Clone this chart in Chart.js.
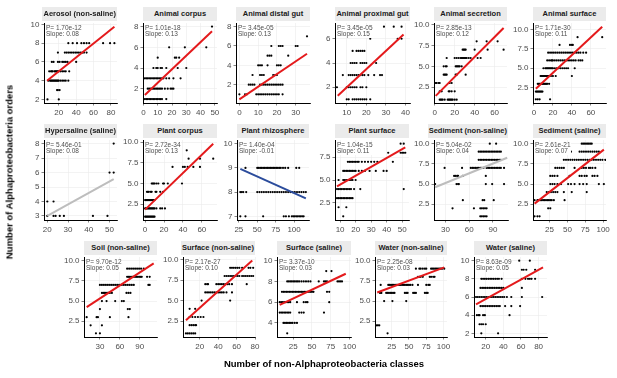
<!DOCTYPE html>
<html>
<head>
<meta charset="utf-8">
<script src="https://cdn.jsdelivr.net/npm/chart.js@4.4.1/dist/chart.umd.min.js"></script>
<style>
  body { margin: 0; background: #fff; }
  #fig { position: relative; width: 617px; height: 378px; overflow: hidden; background: #fff; font-family: "Liberation Sans", Arial, sans-serif; }
  #fig canvas { position: absolute; }
  .strip { position: absolute; height: 14px; line-height: 14px; background: #ebebeb; color: #1a1a1a; font-weight: bold; font-size: 7.5px; text-align: center; white-space: nowrap; padding: 0 1px; box-sizing: border-box; }
  .stats { position: absolute; font-size: 6.5px; line-height: 6.6px; color: #4d4d4d; background: #fff; white-space: nowrap; }
  .axtitle { position: absolute; font-weight: bold; font-size: 9.5px; color: #000; white-space: nowrap; }
</style>
</head>
<body>
<div id="fig"></div>
<script>
// facet titles and stats
const titles = ['Aerosol (non-saline)', 'Animal corpus', 'Animal distal gut', 'Animal proximal gut', 'Animal secretion', 'Animal surface',
  'Hypersaline (saline)', 'Plant corpus', 'Plant rhizosphere', 'Plant surface', 'Sediment (non-saline)', 'Sediment (saline)',
  'Soil (non-saline)', 'Surface (non-saline)', 'Surface (saline)', 'Water (non-saline)', 'Water (saline)'];
const pLabels = ['1.70e-12', '1.01e-18', '3.45e-05', '3.45e-05', '2.85e-13', '1.71e-30', '5.46e-01', '2.72e-34', '1.40e-04',
  '1.04e-15', '5.04e-02', '2.61e-21', '9.70e-12', '2.17e-27', '3.37e-10', '2.25e-08', '8.63e-09'];
const slopeLabels = ['0.08', '0.13', '0.13', '0.15', '0.12', '0.11', '0.08', '0.13', '-0.01', '0.11', '0.04', '0.07',
  '0.05', '0.10', '0.03', '0.03', '0.05'];

// tick labels
const xTickLabels = [
  ['20', '40', '60', '80'], ['0', '10', '20', '30', '40', '50'], ['0', '10', '20', '30'], ['10', '20', '30', '40'],
  ['0', '20', '40', '60'], ['0', '20', '40', '60'], ['20', '30', '40', '50'], ['0', '20', '40', '60'],
  ['25', '50', '75', '100'], ['10', '20', '30', '40', '50'], ['30', '60', '90'], ['25', '50', '75', '100'],
  ['30', '60', '90'], ['20', '40', '60', '80'], ['25', '50', '75', '100'], ['25', '50', '75', '100'], ['20', '40', '60', '80']
];
const yTickLabels = [
  ['2', '4', '6', '8', '10'], ['2', '4', '6', '8'], ['2', '4', '6', '8'], ['2', '4', '6'],
  ['2.5', '5.0', '7.5', '10.0'], ['2.5', '5.0', '7.5', '10.0'], ['3', '4', '5', '6', '7', '8'], ['2.5', '5.0', '7.5', '10.0'],
  ['7', '8', '9', '10'], ['2.5', '5.0', '7.5'], ['2.5', '5.0', '7.5', '10.0'], ['2.5', '5.0', '7.5', '10.0'],
  ['2.5', '5.0', '7.5', '10.0'], ['2.5', '5.0', '7.5', '10.0'], ['4', '6', '8', '10'], ['2.5', '5.0', '7.5', '10.0'],
  ['2', '4', '6', '8', '10']
];
const xLimits = [[3, 87], [-0.3, 51.5], [-1.8, 37.6], [4, 42.3], [-0.7, 72.4], [-1, 76], [18.4, 53.6], [-2.2, 76],
  [22.5, 120.3], [6.7, 54.4], [15.6, 109], [1.8, 104], [6, 116], [1.8, 80], [3.4, 102], [0.8, 105], [6.7, 89.5]];
const yLimits = [[1.62, 10.15], [0.62, 8.35], [0.1, 8.38], [0.7, 7.3], [0.6, 10.2], [0.53, 10.82], [2.72, 8.25],
  [0.6, 10.25], [6.85, 10.15], [0.6, 9.4], [0.55, 10.45], [0.55, 10.45], [0.55, 10.45], [0.56, 10.32], [2.65, 10.35],
  [0.55, 10.45], [1.6, 10.4]];

// points: [orders, [classes...]]
const ptsAerosol = [
  [2, [7, 20]], [3, [18, 19, 21]],
  [4, [8, 10, 11, 12, 13, 14, 15, 16, 17, 18, 19, 20, 22, 24, 26, 28, 31]],
  [5, [9, 11, 12, 13, 15, 16, 17, 18, 19, 20, 22, 24, 26, 28, 32]],
  [6, [12, 14, 19, 21, 24, 26, 28, 30, 40]],
  [7, [19, 27, 29, 31, 33, 35, 37, 39, 41, 43, 45, 47, 49, 52]],
  [8, [31, 36, 41, 46, 49, 52, 55, 71, 79, 84]]
];
const ptsAnimalCorpus = [
  [1, [1, 2, 3, 4, 5, 6, 7, 8, 9, 10, 11, 12, 13, 16]],
  [2, [3, 4, 5, 6, 7, 8, 9, 10, 11, 12, 13, 15, 17, 19, 20, 21]],
  [3, [1, 2, 3, 4, 5, 6, 7, 8, 9, 10, 11, 12, 13, 14, 16, 18, 21, 26]],
  [4, [7, 9, 10, 12, 13, 16, 24, 30]], [5, [10, 22, 23, 25]], [6, [18, 29, 44]], [8, [48]]
];
const ptsDistalGut = [
  [1, [0, 3, 4, 9, 10, 11, 12, 13, 14, 15, 16, 17, 18, 19, 20, 21, 23]],
  [2, [5, 6, 7, 8, 11, 12, 13, 14, 15, 16, 17, 18, 19, 20, 21, 22, 23]],
  [3, [7, 11, 12, 13, 18, 19, 20]], [4, [10, 11, 12, 15, 20, 21, 22]],
  [5, [15, 16, 17, 26]], [6, [17, 21, 22, 23, 30, 31]], [7, [36]]
];
const ptsProximalGut = [
  [1, [10, 11, 13, 14, 15, 16, 17, 18, 19, 20, 22]],
  [2, [5, 10, 11, 12, 13, 14, 15, 17, 18, 20]],
  [3, [8, 11, 12, 13, 14, 15, 16, 17, 18, 19, 21, 24, 27, 28]],
  [4, [12, 13, 14, 15, 17, 18, 19, 20, 25]], [5, [13, 15, 16, 17, 18, 19]],
  [6, [22, 36, 38]], [7, [29, 34, 38]]
];
const ptsSecretion = [
  [1, [5, 6, 7, 8, 10, 13, 14, 15, 16, 17, 18, 20, 22]], [2, [5, 7, 14, 15, 17, 20]],
  [3, [1, 2, 4, 5, 15, 17]], [4, [9, 10, 11, 12, 21, 22, 31]],
  [5, [9, 11, 12, 21, 22, 23, 24, 25, 27]],
  [6, [12, 20, 22, 24, 26, 27, 28, 29, 30, 31, 32, 34, 36, 43, 46]],
  [7, [28, 29, 30, 31, 40, 53, 69]], [8, [42, 52, 63]]
];
const ptsAnimalSurface = [
  [1, [2, 4, 6, 17]], [2, [2, 3, 4, 5, 6, 7, 8, 9]],
  [3, [4, 5, 6, 7, 8, 9, 10, 11, 12, 13, 14, 16]],
  [4, [7, 8, 9, 10, 11, 12, 13, 14, 15, 16, 18, 20, 23, 40]],
  [5, [10, 12, 13, 14, 15, 16, 17, 18, 19, 20, 22, 24, 26, 28, 30, 32, 34, 36, 43]],
  [6, [14, 16, 18, 19, 20, 22, 24, 26, 28, 30, 32, 34, 36, 38, 40, 42, 44, 47, 49, 51]],
  [7, [15, 17, 19, 21, 23, 25, 27, 29, 31, 33, 35, 37, 39, 41, 43, 45, 47, 49, 52, 55]],
  [8, [27, 38, 40, 41]], [9, [46, 72]]
];
const ptsHypersaline = [
  [3, [20, 23, 24, 26, 28, 42, 49]], [4, [20, 23]], [6, [50, 52]], [8, [52]]
];
const ptsPlantCorpus = [
  [1, [0, 1, 2, 3, 4, 5, 6, 7, 8, 9, 10]],
  [2, [0, 1, 2, 3, 4, 5, 6, 7, 8, 9, 10, 12, 16, 18, 21]],
  [3, [0, 1, 2, 3, 4, 5, 6, 7, 8, 9, 10]],
  [4, [2, 3, 4, 6, 7, 11, 12, 16, 19]], [5, [7, 8, 9, 10, 12, 14, 19, 20, 24, 39]],
  [7, [29, 40, 42, 45, 51, 58]], [8, [46, 58, 72]], [9, [44]]
];
const ptsRhizosphere = [
  [7, [27, 34, 58, 86, 89, 93, 97, 99, 101, 103, 105, 107, 109, 111, 113]],
  [8, [27, 29, 31, 35, 50, 53, 56, 59, 62, 65, 68, 71, 74, 77, 80, 83, 86, 89, 92, 95, 98, 101, 104, 107, 110, 113, 116]],
  [9, [34, 50, 52, 54, 56, 58, 60, 62, 64, 66, 68, 70, 72, 74, 76, 78, 80, 82, 85, 88, 92, 103, 107]],
  [10, [30]]
];
const ptsPlantSurface = [
  [1, [12]], [2, [9, 14]], [3, [8, 9, 10, 11, 12, 13, 14, 15, 16, 17, 18]],
  [4, [8, 9, 10, 11, 12, 13, 14, 15, 16, 17, 19, 23, 51]],
  [5, [9, 12, 13, 14, 15, 16, 17, 18, 20]],
  [6, [12, 13, 14, 15, 16, 17, 18, 19, 20, 22, 24, 26, 29, 33, 38, 40]],
  [7, [15, 16, 17, 18, 19, 20, 21, 22, 24, 26, 28, 30, 32, 34, 44]],
  [8, [41, 49, 50, 51, 52]], [9, [49, 51]]
];
const ptsSedimentNS = [
  [1, [74, 76, 78, 80, 82]], [2, [39, 66, 74, 76, 78, 80, 82]], [3, [52, 77, 79, 91]],
  [5, [17, 44, 46, 47, 81, 89, 104]], [6, [41, 43, 45, 46, 52, 81]],
  [7, [29, 51, 62, 64, 66, 68, 70, 72, 74, 76, 78, 82, 84, 86, 88, 90, 92, 94, 96, 98, 100, 104]],
  [8, [72, 74, 76, 78, 80, 82, 84, 86, 88, 90, 92, 94, 96, 98, 100]],
  [9, [72, 74, 76, 78, 80, 82, 84, 86, 88, 90, 92, 94, 96, 98, 100]], [10, [86, 94]]
];
const ptsSedimentS = [
  [1, [4, 8, 11]], [2, [23, 26]], [3, [4, 8, 10, 12, 14, 16, 18, 20, 22, 24, 26, 28, 31, 46]],
  [4, [21, 24, 27, 30, 33, 36, 45, 56, 77]],
  [5, [26, 29, 32, 36, 41, 51, 55, 60, 67, 72, 77, 94, 101]],
  [6, [26, 29, 32, 36, 53, 67, 70, 74, 77, 85, 88, 92]],
  [7, [33, 36, 39, 42, 45, 60, 70, 73, 76, 80, 82, 85, 89]],
  [8, [45, 48, 51, 54, 57, 60, 63, 66, 69, 72, 75, 78, 81, 84, 87, 90, 93, 96, 99, 103]],
  [9, [55, 67, 70, 73, 76, 79, 82, 85, 88, 91, 94]], [10, [70, 72, 74, 76, 78, 80, 82, 84]]
];
const ptsSoil = [
  [1, [24, 30]], [2, [16, 33]], [3, [10, 25, 27, 45, 73]], [4, [30, 72, 75]], [5, [33, 40, 53, 63, 66]],
  [6, [33, 35, 37, 39, 41, 43, 45, 48, 70, 73, 76]],
  [7, [30, 33, 36, 39, 42, 45, 48, 51, 54, 57, 60, 63, 66, 69, 72, 75, 78, 81, 103, 105]],
  [8, [71, 73, 75, 77, 79, 81, 83, 85, 87, 89, 91, 93, 101, 105]],
  [9, [71, 74, 77, 80, 83, 86, 89, 92, 96]]
];
const ptsSurfaceNS = [
  [1, [5, 7, 9, 11, 13, 15]], [2, [9, 11, 13, 15, 16]], [3, [9, 12, 15, 18, 21, 24]], [4, [9, 15]], [5, [22, 53]],
  [6, [26, 28, 30, 32, 34, 36, 38, 40, 42, 44, 46, 49, 55]],
  [7, [26, 28, 29, 38, 40, 42, 44, 46, 48, 50, 52, 55, 71]],
  [8, [47, 49, 51, 53, 55, 57, 59, 61, 63, 66, 68, 70, 72, 74, 76, 78]],
  [9, [53, 55, 57, 59, 61, 63, 66, 73, 75, 78]]
];
const ptsSurfaceS = [
  [3, [17]], [4, [12, 14, 16, 18, 20, 22, 24, 27, 30]],
  [5, [7, 9, 11, 13, 15, 17, 19, 21, 33, 36, 39, 66]],
  [6, [7, 9, 11, 13, 15, 17, 19, 21, 30, 39, 42, 44, 73]],
  [7, [10, 12, 14, 16, 18, 20, 22, 24, 26, 28, 30, 32, 34, 36, 38, 40, 42, 44, 46, 48, 50, 52, 70, 73]],
  [8, [17, 19, 21, 23, 25, 27, 29, 31, 33, 36, 39, 42, 45, 48, 59, 66, 68, 70, 84, 86, 88, 90]],
  [9, [69, 76]], [10, [10]]
];
const ptsWaterNS = [
  [1, [19]], [2, [3, 5, 7]], [5, [14, 26, 46]],
  [6, [8, 10, 17, 19, 21, 23, 25, 27, 29, 44, 46, 48, 56, 58, 60, 73, 75, 77]],
  [7, [9, 20, 22, 24, 26, 28, 30, 32, 34, 36, 38, 40, 42, 44, 46, 48, 50, 52, 55, 63, 75, 78, 80]],
  [8, [63, 65, 67, 70, 80, 82, 85, 87]],
  [9, [60, 65, 67, 70, 73, 75, 82, 84, 86, 88, 90, 92, 94, 96, 98, 101]], [10, [8]]
];
const ptsWaterS = [
  [2, [15, 34]], [3, [13, 15, 17, 20]], [4, [10, 12, 13, 17, 19, 47]],
  [5, [14, 16, 18, 20, 22, 24, 26, 28, 30, 32, 34, 36, 42, 49, 59]],
  [6, [9, 11, 13, 15, 17, 19, 21, 23, 25, 27, 29, 31, 33, 35, 37, 39, 41, 44, 49, 61, 84]],
  [7, [14, 16, 18, 20, 22, 24, 26, 28, 30, 32, 34, 36, 38, 40, 61]],
  [8, [15, 17, 19, 21, 23, 25, 27, 29, 31, 33, 35, 38, 61, 65, 68, 70, 72, 76]],
  [9, [61, 63, 66, 76]], [10, [58, 70]]
];
const panelPoints = [ptsAerosol, ptsAnimalCorpus, ptsDistalGut, ptsProximalGut, ptsSecretion, ptsAnimalSurface,
  ptsHypersaline, ptsPlantCorpus, ptsRhizosphere, ptsPlantSurface, ptsSedimentNS, ptsSedimentS,
  ptsSoil, ptsSurfaceNS, ptsSurfaceS, ptsWaterNS, ptsWaterS];

// fitted line ends [classes, orders]
const fitLines = [
  [[6.5, 4.0], [84, 9.75]], [[1, 1.4], [48, 7.55]], [[0, 0.47], [36, 5.2]], [[5.4, 1.3], [39, 6.35]],
  [[1, 1.45], [69, 9.6]], [[2, 2.35], [72, 10.35]], [[20, 3.0], [52, 5.55]], [[0, 1.85], [72, 9.8]],
  [[27, 8.96], [116, 7.74]], [[8, 4.3], [52, 8.6]], [[17, 4.6], [108, 8.25]], [[4, 2.58], [101, 9.26]],
  [[10, 4.25], [111, 9.67]], [[5, 2.6], [77, 9.9]], [[7, 5.74], [95, 8.74]], [[4, 6.05], [101, 9.17]],
  [[9, 5.2], [85, 9.25]]
];

// styles / layout
const RED = '#e41a1c', GREY = '#bdbdbd', BLUE = '#2b4c9c';
const lineColors = [RED, RED, RED, RED, RED, RED, GREY, RED, BLUE, RED, GREY, RED, RED, RED, RED, RED, RED];
// plot area boxes [left, top, right, bottom]
const boxes = [
  [44, 23, 117, 103], [143, 23, 217, 103], [236, 23, 310, 103], [335, 23, 410, 103], [434, 23, 507, 103], [533, 23, 606, 103],
  [44, 140, 117, 220], [143, 140, 217, 220], [237, 140, 309, 220], [335, 140, 409, 220], [434, 140, 508, 220], [533, 140, 606, 220],
  [84, 257, 157, 337], [183, 257, 255, 337], [277, 257, 351, 337], [375, 257, 447, 337], [474, 257, 547, 337]
];

Chart.defaults.font.family = '"Liberation Sans", Arial, sans-serif';
const fig = document.getElementById('fig');
const YW = 30, XH = 14, PT = 6, PR = 10;

titles.forEach((title, i) => {
  const [l, t, r, b] = boxes[i];
  const cv = document.createElement('canvas');
  cv.width = YW + (r - l) + PR;
  cv.height = PT + (b - t) + XH;
  cv.style.left = (l - YW) + 'px';
  cv.style.top = (t - PT) + 'px';
  fig.appendChild(cv);

  const pts = panelPoints[i].flatMap(([y, xs]) => xs.map(x => ({ x: x, y: y })));
  const xl = xTickLabels[i], yl = yTickLabels[i];
  const tickFont = { size: 8 };

  new Chart(cv, {
    type: 'scatter',
    data: {
      datasets: [
        { data: fitLines[i].map(([x, y]) => ({ x: x, y: y })), showLine: true, borderColor: lineColors[i],
          borderWidth: 2, pointRadius: 0, order: 0 },
        { data: pts, backgroundColor: '#000', pointRadius: 1.1, borderWidth: 0, order: 1 }
      ]
    },
    options: {
      responsive: false,
      animation: false,
      events: [],
      layout: { padding: { top: PT, right: PR, left: 0, bottom: 0 } },
      plugins: { legend: { display: false }, tooltip: { enabled: false } },
      scales: {
        x: {
          type: 'linear', min: xLimits[i][0], max: xLimits[i][1],
          afterBuildTicks: s => { s.ticks = xl.map(v => ({ value: Number(v) })); },
          afterFit: s => { s.height = XH; s.paddingLeft = 0; s.paddingRight = 0; },
          ticks: { callback: (v, k) => xl[k], font: tickFont, color: '#4d4d4d', padding: 2, maxRotation: 0, autoSkip: false },
          grid: { color: '#ebebeb', lineWidth: 0.6, tickColor: '#333', tickLength: 2.5 },
          border: { color: '#000', width: 1 }
        },
        y: {
          type: 'linear', min: yLimits[i][0], max: yLimits[i][1],
          afterBuildTicks: s => { s.ticks = yl.map(v => ({ value: Number(v) })); },
          afterFit: s => { s.width = YW; s.paddingTop = 0; s.paddingBottom = 0; },
          ticks: { callback: (v, k) => yl[k], font: tickFont, color: '#4d4d4d', padding: 2, autoSkip: false },
          grid: { color: '#ebebeb', lineWidth: 0.6, tickColor: '#333', tickLength: 2.5 },
          border: { color: '#000', width: 1 }
        }
      }
    }
  });

  const strip = document.createElement('div');
  strip.className = 'strip';
  strip.textContent = title;
  strip.style.right = (617 - r) + 'px';
  strip.style.top = (t - 16) + 'px';
  strip.style.minWidth = (r - l) + 'px';
  fig.appendChild(strip);

  const st = document.createElement('div');
  st.className = 'stats';
  st.innerHTML = 'P= ' + pLabels[i] + '<br>Slope: ' + slopeLabels[i];
  st.style.left = (l + 2) + 'px';
  st.style.top = (t + 1.5) + 'px';
  fig.appendChild(st);
});

const xt = document.createElement('div');
xt.className = 'axtitle';
xt.textContent = 'Number of non-Alphaproteobacteria classes';
xt.style.left = '324px';
xt.style.top = '363px';
xt.style.transform = 'translate(-50%, -50%)';
fig.appendChild(xt);

const yt = document.createElement('div');
yt.className = 'axtitle';
yt.textContent = 'Number of Alphaproteobacteria orders';
yt.style.left = '9px';
yt.style.top = '172px';
yt.style.transform = 'translate(-50%, -50%) rotate(-90deg)';
fig.appendChild(yt);
</script>
</body>
</html>
